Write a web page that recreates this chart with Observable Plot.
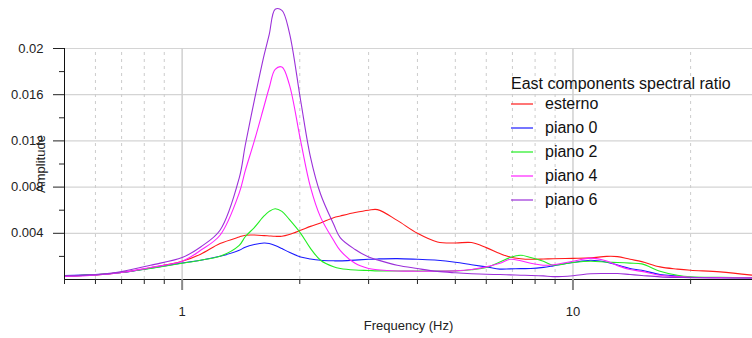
<!DOCTYPE html>
<html>
<head>
<meta charset="utf-8">
<script src="https://cdn.jsdelivr.net/npm/d3@7"></script>
<script src="https://cdn.jsdelivr.net/npm/@observablehq/plot@0.6"></script>
<style>
  html, body { margin: 0; padding: 0; background: #fff; }
  #wrap { position: relative; width: 752px; height: 338px; font-family: "Liberation Sans", Arial, sans-serif; }
  #legend { position: absolute; left: 511px; top: 72px; font-size: 16px; color: #111; line-height: 24px; }
  #legend .title { margin-bottom: -4px; }
  #legend .item { display: flex; align-items: center; }
  #legend .sw { width: 22px; height: 0; border-top: 2px solid; margin-right: 12px; opacity: 0.6; }
</style>
</head>
<body>
<div id="wrap"></div>
<script>
const seriesNames = ["esterno", "piano 0", "piano 2", "piano 4", "piano 6"];
const seriesColors = ["#ff1a1a", "#1a1aff", "#22ee22", "#ff22ff", "#9b30d9"];
const legendTitle = "East components spectral ratio";

const freq = [0.5, 0.6, 0.7, 0.83, 1.0, 1.115, 1.25, 1.4, 1.45, 1.53, 1.62, 1.67, 1.73, 1.8, 1.88, 2.01, 2.13, 2.26, 2.44, 2.54, 2.77,
  3.0, 3.16, 3.55, 4.0, 4.5, 5.0, 5.5, 6.0, 6.5, 6.9, 7.35, 7.8, 8.4, 8.9, 10.0, 11.1, 12.2, 13.0, 14.0, 15.0, 16.7, 18.5, 20, 23.8, 28.8];

const esterno = [0.0003, 0.0004, 0.00062, 0.00102, 0.00158, 0.00219, 0.00311, 0.00368, 0.00383, 0.00385, 0.0038, 0.00377, 0.00374, 0.00375, 0.0039, 0.00426, 0.0046, 0.0049, 0.00535, 0.0055, 0.0058,
  0.006, 0.00605, 0.00512, 0.004, 0.00325, 0.00316, 0.0032, 0.00276, 0.00225, 0.00195, 0.0018, 0.00175, 0.00177, 0.0018, 0.00183, 0.00187, 0.002, 0.00198, 0.00175, 0.00155, 0.00109, 0.0009, 0.0008, 0.00066, 0.00037];

const piano0 = [0.00035, 0.00042, 0.0006, 0.00098, 0.00143, 0.00167, 0.00201, 0.00253, 0.0028, 0.00303, 0.00316, 0.00312, 0.00295, 0.00268, 0.00235, 0.00195, 0.00178, 0.00167, 0.00162, 0.00161, 0.00168,
  0.00175, 0.00178, 0.00181, 0.00175, 0.00167, 0.0015, 0.00128, 0.00109, 0.0009, 0.00092, 0.00094, 0.00095, 0.00105, 0.00118, 0.00147, 0.00167, 0.0015, 0.00125, 0.00095, 0.0008, 0.00043, 0.0003, 0.0002, 0.00017, 0.00015];

const piano2 = [0.0003, 0.0004, 0.0006, 0.00096, 0.0014, 0.00167, 0.00201, 0.00296, 0.0037, 0.0045, 0.0055, 0.0059, 0.00613, 0.0059, 0.0052, 0.004, 0.0027, 0.00167, 0.0011, 0.00095, 0.00082,
  0.00078, 0.00075, 0.00074, 0.00074, 0.00074, 0.00075, 0.00085, 0.00104, 0.00152, 0.0019, 0.0021, 0.0019, 0.00158, 0.00124, 0.00147, 0.00158, 0.0015, 0.00147, 0.00142, 0.00135, 0.00072, 0.00037, 0.00023, 0.00018, 0.00015];

const piano4 = [0.00027, 0.00038, 0.0006, 0.00104, 0.00158, 0.00253, 0.00383, 0.0075, 0.0094, 0.012, 0.015, 0.0166, 0.0182, 0.0184, 0.0169, 0.012, 0.008, 0.0054, 0.0034, 0.0025, 0.0014,
  0.00095, 0.00085, 0.00074, 0.00072, 0.00072, 0.00075, 0.00086, 0.00109, 0.0014, 0.00175, 0.00162, 0.0014, 0.00124, 0.00128, 0.00158, 0.00185, 0.0016, 0.0012, 0.00086, 0.0007, 0.00037, 0.00025, 0.0002, 0.00016, 0.00015];

const piano6 = [0.00032, 0.00042, 0.00068, 0.00124, 0.0019, 0.00282, 0.00426, 0.0088, 0.0116, 0.0155, 0.0194, 0.0212, 0.0234, 0.0233, 0.0214, 0.0155, 0.0106, 0.0074, 0.0048, 0.0036, 0.0026,
  0.00195, 0.0017, 0.00124, 0.00095, 0.0007, 0.00058, 0.0005, 0.00045, 0.00043, 0.0004, 0.00037, 0.00035, 0.00031, 0.00025, 0.00033, 0.0005, 0.00052, 0.00052, 0.00043, 0.00035, 0.00023, 0.00018, 0.00016, 0.00013, 0.00012];

const xDomain = [0.5, 28.8];
const yDomain = [0, 0.02];
const yMajorTicks = [0.004, 0.008, 0.012, 0.016, 0.02];
const yMinorTicks = [0.002, 0.006, 0.01, 0.014, 0.018];
const xMajorTicks = [1, 10];
const xMinorTicks = [0.5, 0.6, 0.7, 0.8, 0.9, 2, 3, 4, 5, 6, 7, 8, 9, 20];

const allSeries = [esterno, piano0, piano2, piano4, piano6];
const data = [];
allSeries.forEach((vals, i) => vals.forEach((v, j) => data.push({f: freq[j], v, s: seriesNames[i]})));

const chart = Plot.plot({
  width: 752, height: 338,
  marginLeft: 64, marginRight: 0, marginTop: 48, marginBottom: 59,
  style: {fontFamily: "Liberation Sans, Arial, sans-serif", fontSize: "13px", background: "#fff", color: "#222"},
  x: {type: "log", domain: xDomain},
  y: {domain: yDomain},
  color: {domain: seriesNames, range: seriesColors},
  marks: [
    Plot.ruleY(yMajorTicks, {stroke: "#d4d4d4", strokeWidth: 1.2, strokeOpacity: 1}),
    Plot.ruleX(xMinorTicks.filter(d => d !== 0.5), {y1: 0, y2: 0.02, stroke: "#cccccc", strokeDasharray: "3,4", strokeOpacity: 1}),
    Plot.ruleX(xMajorTicks, {y1: 0, y2: 0.02, stroke: "#d0d0d0", strokeWidth: 1.5, strokeOpacity: 1}),
    Plot.line(data, {x: "f", y: "v", z: "s", stroke: "s", curve: "catmull-rom", strokeWidth: 1.1}),
    Plot.ruleX([xDomain[0]], {y1: 0, y2: 0.02, stroke: "#111", strokeOpacity: 1}),
    Plot.ruleY([0], {stroke: "#111", strokeOpacity: 1}),
    Plot.axisY(yMajorTicks, {tickSize: 11, tickPadding: 10, tickFormat: d => String(d), label: "Amplitude", labelAnchor: "center", labelArrow: "none", labelOffset: 29, stroke: "#222", fontSize: 13}),
    Plot.axisY(yMinorTicks, {tickSize: 5, tickFormat: () => "", label: null, stroke: "#222"}),
    Plot.axisX(xMinorTicks, {tickSize: 5, tickFormat: () => "", label: null, stroke: "#222"}),
    Plot.axisX(xMajorTicks, {tickSize: 11, tickPadding: 16, tickFormat: d => String(d), stroke: "#888", strokeWidth: 2, label: "Frequency (Hz)", labelAnchor: "center", labelArrow: "none", labelOffset: 50, fontSize: 13})
  ]
});

const wrap = document.getElementById("wrap");
wrap.appendChild(chart);

const legend = document.createElement("div");
legend.id = "legend";
const t = document.createElement("div");
t.className = "title";
t.textContent = legendTitle;
legend.appendChild(t);
seriesNames.forEach((name, i) => {
  const it = document.createElement("div");
  it.className = "item";
  const sw = document.createElement("span");
  sw.className = "sw";
  sw.style.borderColor = seriesColors[i];
  const lb = document.createElement("span");
  lb.textContent = name;
  it.appendChild(sw); it.appendChild(lb);
  legend.appendChild(it);
});
wrap.appendChild(legend);
</script>
</body>
</html>
